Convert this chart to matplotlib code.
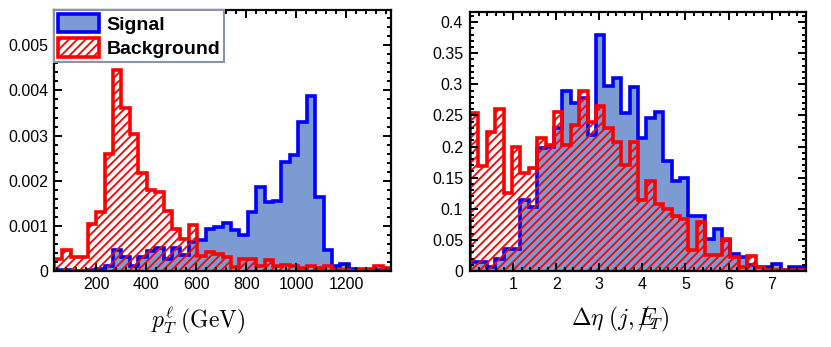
import numpy as np
import matplotlib
matplotlib.use("Agg")
import matplotlib.pyplot as plt
from matplotlib.ticker import MultipleLocator, AutoMinorLocator, FuncFormatter
from matplotlib.patches import Patch

plt.rcParams['font.family'] = ['Liberation Sans', 'DejaVu Sans']
plt.rcParams['mathtext.fontset'] = 'cm'
plt.rcParams['hatch.linewidth'] = 1.3

# lepton pT, 40 bins between 30 and 1380 GeV
pt_edges = np.linspace(30, 1380, 41)
pt_signal = [0.00002, 0.00002, 0.00001, 0.00001, 0.00002, 0.00005, 0.0001, 0.00046,
             0.0003, 0.0001, 0.0003, 0.00045, 0.0005, 0.00027, 0.00052, 0.00035,
             0.00065, 0.00068, 0.00092, 0.00098, 0.00106, 0.0009, 0.00079, 0.0013,
             0.00186, 0.00153, 0.00155, 0.00242, 0.00256, 0.0033, 0.00387, 0.00164,
             0.00047, 0.00012, 0.00015, 0.00005, 0.00002, 0.0, 0.00002, 0.00002]
pt_background = [0.00027, 0.00047, 0.00031, 0.00031, 0.00105, 0.0013, 0.0026, 0.00445,
                 0.0036, 0.00303, 0.00216, 0.0018, 0.00174, 0.00133, 0.00092, 0.00072,
                 0.00103, 0.00033, 0.00042, 0.00038, 0.00031, 0.00009, 0.00027, 0.00027,
                 0.0001, 0.00025, 0.00012, 0.00013, 0.0001, 0.00006, 0.00012, 0.00006,
                 0.0001, 0.00002, 0.00003, 0.0, 0.00005, 0.00005, 0.0001, 0.00007]

# delta eta(j, MET), 40 bins between 0 and 7.8
deta_edges = np.linspace(0, 7.8, 41)
deta_signal = [0.015, 0.015, 0.006, 0.02, 0.036, 0.036, 0.114, 0.103, 0.197, 0.2,
               0.23, 0.29, 0.27, 0.278, 0.219, 0.379, 0.298, 0.31, 0.254, 0.296,
               0.213, 0.246, 0.255, 0.176, 0.144, 0.15, 0.089, 0.089, 0.052, 0.067,
               0.05, 0.028, 0.023, 0.009, 0.006, 0.006, 0.012, 0.002, 0.006, 0.006]
deta_background = [0.254, 0.168, 0.224, 0.26, 0.125, 0.2, 0.157, 0.166, 0.213, 0.203,
                   0.255, 0.203, 0.234, 0.29, 0.24, 0.265, 0.23, 0.208, 0.17, 0.208,
                   0.114, 0.145, 0.107, 0.099, 0.089, 0.084, 0.033, 0.078, 0.025, 0.025,
                   0.052, 0.023, 0.006, 0.024, 0.006, 0.001, 0.001, 0.001, 0.001, 0.001]

SIG_FILL = '#7b9bd2'
SIG_LINE = '#0000ff'
BKG_LINE = '#ff0000'


def draw_hists(ax, edges, sig, bkg):
    ax.stairs(sig, edges, fill=True, facecolor=SIG_FILL, edgecolor='none', linewidth=0)
    ax.stairs(sig, edges, color=SIG_LINE, linewidth=2.6)
    ax.stairs(bkg, edges, fill=True, facecolor='none', edgecolor=BKG_LINE,
              hatch='////', linewidth=0)
    ax.stairs(bkg, edges, color=BKG_LINE, linewidth=2.6)


def style_axes(ax):
    for s in ax.spines.values():
        s.set_linewidth(1.6)
    ax.tick_params(which='both', direction='in', top=True, right=True,
                   width=1.4, labelsize=11.5)
    ax.tick_params(which='major', length=6)
    ax.tick_params(which='minor', length=3)
    ax.xaxis.set_minor_locator(AutoMinorLocator(5))
    ax.yaxis.set_minor_locator(AutoMinorLocator(5))
    ax.yaxis.set_major_formatter(FuncFormatter(lambda v, p: '%g' % round(v, 6)))


fig = plt.figure(figsize=(8.31, 3.47), dpi=100)
ax1 = fig.add_axes([0.065, 0.219, 0.4055, 0.752])
ax2 = fig.add_axes([0.5656, 0.219, 0.4044, 0.746])

draw_hists(ax1, pt_edges, pt_signal, pt_background)
ax1.set_xlim(30, 1380)
ax1.set_ylim(0, 0.00578)
ax1.set_xticks([200, 400, 600, 800, 1000, 1200])
ax1.yaxis.set_major_locator(MultipleLocator(0.001))
style_axes(ax1)
ax1.tick_params(axis='x', pad=4)
ax1.tick_params(axis='y', pad=4)
ax1.set_xlabel(r'$p_T^{\ell}\;(\mathrm{GeV})$', fontsize=17)
ax1.xaxis.set_label_coords(0.427, -0.188)
ax1.xaxis.label.set_va('center')

handles = [Patch(facecolor=SIG_FILL, edgecolor=SIG_LINE, linewidth=2.6, label='Signal'),
           Patch(facecolor='white', edgecolor=BKG_LINE, linewidth=2.6, hatch='////',
                 label='Background')]
leg = ax1.legend(handles=handles, loc='upper left', bbox_to_anchor=(0, 1),
                 borderaxespad=0, fancybox=False, framealpha=1,
                 prop={'weight': 'bold', 'size': 14}, handlelength=2.1,
                 handleheight=1.05, handletextpad=0.4, labelspacing=0.25,
                 borderpad=0.2)
leg.get_frame().set_edgecolor('#8a96a8')
leg.get_frame().set_linewidth(1.5)

draw_hists(ax2, deta_edges, deta_signal, deta_background)
ax2.set_xlim(0, 7.8)
ax2.set_ylim(0, 0.416)
ax2.set_xticks([1, 2, 3, 4, 5, 6, 7])
ax2.yaxis.set_major_locator(MultipleLocator(0.05))
style_axes(ax2)
ax2.tick_params(axis='x', pad=4)
ax2.tick_params(axis='y', pad=5)
ax2.set_xlabel(r'$\Delta\eta\;(j,{E\!\!\!\!\!/}_T)$', fontsize=17)
ax2.xaxis.set_label_coords(0.446, -0.188)
ax2.xaxis.label.set_va('center')

fig.savefig('out.png', dpi=100)
